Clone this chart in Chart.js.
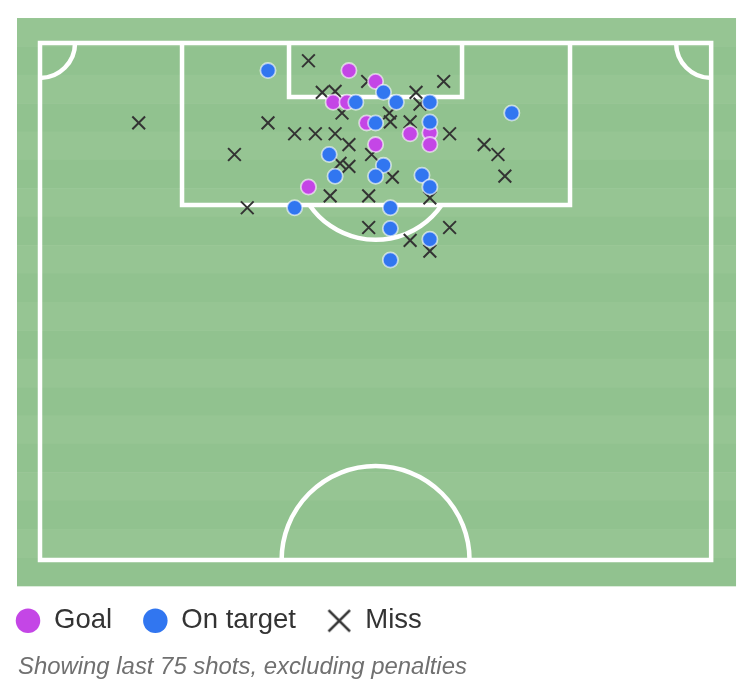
<!DOCTYPE html>
<html><head><meta charset="utf-8">
<script src="https://cdn.jsdelivr.net/npm/chart.js@4"></script>
<style>html,body{margin:0;padding:0;background:#fff;}</style>
</head><body>
<canvas id="c" width="746" height="690"></canvas>
<script>
// ---- data (pitch metres: x across 0..68, y = distance from goal line) ----
const seriesNames = ['Goal', 'On target', 'Miss'];
const footnote = 'Showing last 75 shots, excluding penalties';

const goalX = [31.3, 34.0, 29.7, 31.1, 33.1, 34.0, 37.5, 39.5, 39.5, 27.2];
const goalY = [2.8, 3.9, 6.0, 6.0, 8.1, 10.3, 9.2, 9.1, 10.3, 14.6];

const onTargetX = [23.1, 34.8, 36.1, 39.5, 32.0, 47.8, 34.0, 39.5, 29.3, 29.9, 34.8, 34.0, 38.7, 39.5, 25.8, 35.5, 35.5, 39.5, 35.5];
const onTargetY = [2.8, 5.0, 6.0, 6.0, 6.0, 7.1, 8.1, 8.0, 11.3, 13.5, 12.4, 13.5, 13.4, 14.6, 16.7, 16.7, 18.8, 19.9, 22.0];

const missX = [27.2, 10.0, 23.1, 19.7, 21.0, 25.8, 27.9, 29.9, 28.6, 29.9, 30.6, 33.2, 38.1, 40.9, 35.4, 35.5, 37.5, 41.5, 45.0, 46.4, 47.1, 31.3, 30.4, 31.3, 29.4, 33.3, 33.3, 33.6, 35.7, 39.5, 37.5, 41.5, 39.5, 38.5];
const missY = [1.8, 8.1, 8.1, 11.3, 16.7, 9.2, 9.2, 9.2, 5.0, 4.9, 7.1, 3.9, 5.0, 3.9, 7.1, 8.0, 8.0, 9.2, 10.3, 11.3, 13.5, 10.3, 12.2, 12.5, 15.5, 15.5, 18.7, 11.3, 13.6, 15.7, 20.0, 18.7, 21.1, 6.2];

// ---- styles ----
const GOAL_COLOR = '#c446e6';
const TARGET_COLOR = '#3176f0';
const MISS_COLOR = '#333333';
const FONT = "'Liberation Sans', Arial, Helvetica, sans-serif";

const toPoints = (xs, ys) => xs.map((x, i) => ({ x: x, y: ys[i] }));

function makeCross(size, lw, color) {
  const c = document.createElement('canvas');
  c.width = size; c.height = size;
  const g = c.getContext('2d');
  g.strokeStyle = color; g.lineWidth = lw;
  const m = lw / 2 + 0.5;
  g.beginPath();
  g.moveTo(m, m); g.lineTo(size - m, size - m);
  g.moveTo(size - m, m); g.lineTo(m, size - m);
  g.stroke();
  return c;
}
const legendCross = makeCross(25, 2.6, MISS_COLOR);

// pitch geometry (metres)
const PITCH = { w: 68, h: 52.4 };
const BG = { x0: -2.33, x1: 70.52, y0: -2.53, y1: 55.02 };

const pitchPlugin = {
  id: 'pitch',
  beforeDatasetsDraw(chart) {
    const xs = chart.scales.x, ys = chart.scales.y;
    const X = v => xs.getPixelForValue(v);
    const Y = v => ys.getPixelForValue(v);
    const k = X(1) - X(0);
    const ctx = chart.ctx;
    ctx.save();
    // background stripes
    const top = Y(BG.y0), bot = Y(BG.y1), left = X(BG.x0), right = X(BG.x1);
    const n = 20, sh = (bot - top) / n;
    for (let i = 0; i < n; i++) {
      ctx.fillStyle = i % 2 === 0 ? '#96c593' : '#91c28f';
      ctx.fillRect(left, top + i * sh, right - left, sh + 0.5);
    }
    // lines
    ctx.strokeStyle = '#ffffff';
    ctx.lineWidth = 4.5;
    ctx.lineJoin = 'miter';
    ctx.beginPath();
    ctx.rect(X(0), Y(0), X(PITCH.w) - X(0), Y(PITCH.h) - Y(0));
    ctx.stroke();
    // penalty box
    ctx.beginPath();
    ctx.moveTo(X(14.39), Y(0)); ctx.lineTo(X(14.39), Y(16.41));
    ctx.lineTo(X(53.7), Y(16.41)); ctx.lineTo(X(53.7), Y(0));
    ctx.stroke();
    // six-yard box
    ctx.beginPath();
    ctx.moveTo(X(25.23), Y(0)); ctx.lineTo(X(25.23), Y(5.47));
    ctx.lineTo(X(42.76), Y(5.47)); ctx.lineTo(X(42.76), Y(0));
    ctx.stroke();
    // penalty arc
    const pr = 8.1, pcy = 11.85;
    const a0 = Math.asin((16.41 - pcy) / pr);
    ctx.beginPath();
    ctx.arc(X(34), Y(pcy), pr * k, a0, Math.PI - a0);
    ctx.stroke();
    // centre circle (half)
    ctx.beginPath();
    ctx.arc(X(34), Y(PITCH.h), 9.52 * k, Math.PI, 2 * Math.PI);
    ctx.stroke();
    // corner arcs
    ctx.beginPath();
    ctx.arc(X(0), Y(0), 3.55 * k, 0, Math.PI / 2);
    ctx.stroke();
    ctx.beginPath();
    ctx.arc(X(PITCH.w), Y(0), 3.55 * k, Math.PI / 2, Math.PI);
    ctx.stroke();
    ctx.restore();
  }
};

const footShift = {
  id: 'footShift',
  afterLayout(chart) {
    const t = chart.titleBlock;
    if (t) { const w = t.right - t.left; t.left = 18; t.right = 18 + w; }
  }
};

new Chart(document.getElementById('c'), {
  type: 'scatter',
  data: {
    datasets: [
      { label: seriesNames[0], data: toPoints(goalX, goalY), pointStyle: 'circle', pointRadius: 7.6, order: 1,
        backgroundColor: GOAL_COLOR, borderColor: 'rgba(255,255,255,0.6)', borderWidth: 1.8 },
      { label: seriesNames[1], data: toPoints(onTargetX, onTargetY), pointStyle: 'circle', pointRadius: 7.6, order: 0,
        backgroundColor: TARGET_COLOR, borderColor: 'rgba(255,255,255,0.6)', borderWidth: 1.8 },
      { label: seriesNames[2], data: toPoints(missX, missY), pointStyle: 'crossRot', pointRadius: 9, order: 2,
        backgroundColor: MISS_COLOR, borderColor: MISS_COLOR, borderWidth: 2 }
    ]
  },
  options: {
    responsive: false,
    animation: false,
    events: [],
    layout: { autoPadding: false, padding: { left: -15.25, right: 0, top: 0, bottom: 0 } },
    scales: {
      x: { type: 'linear', display: false, min: -4.053, max: 71.53 },
      y: { type: 'linear', display: false, reverse: true, min: -4.357, max: 54.027 }
    },
    plugins: {
      tooltip: { enabled: false },
      legend: {
        position: 'bottom',
        align: 'start',
        labels: {
          usePointStyle: true,
          pointStyleWidth: 24.5,
          boxHeight: 17.32,
          padding: 31,
          color: '#333333',
          font: { family: FONT, size: 27.5, weight: 'normal', lineHeight: 1.2 },
          generateLabels: () => [
            { text: seriesNames[0], fillStyle: GOAL_COLOR, strokeStyle: GOAL_COLOR, lineWidth: 0, pointStyle: 'circle', datasetIndex: 0, hidden: false, fontColor: '#333333' },
            { text: seriesNames[1], fillStyle: TARGET_COLOR, strokeStyle: TARGET_COLOR, lineWidth: 0, pointStyle: 'circle', datasetIndex: 1, hidden: false, fontColor: '#333333' },
            { text: seriesNames[2], fillStyle: MISS_COLOR, strokeStyle: MISS_COLOR, lineWidth: 0, pointStyle: legendCross, datasetIndex: 2, hidden: false, fontColor: '#333333' }
          ]
        }
      },
      title: {
        display: true,
        text: footnote,
        position: 'bottom',
        align: 'start',
        color: '#707070',
        font: { family: FONT, size: 23.9, style: 'italic', weight: 'normal', lineHeight: 1.2 },
        padding: { top: 8.9, bottom: 7.9 }
      }
    }
  },
  plugins: [pitchPlugin, footShift]
});
</script>
</body></html>
